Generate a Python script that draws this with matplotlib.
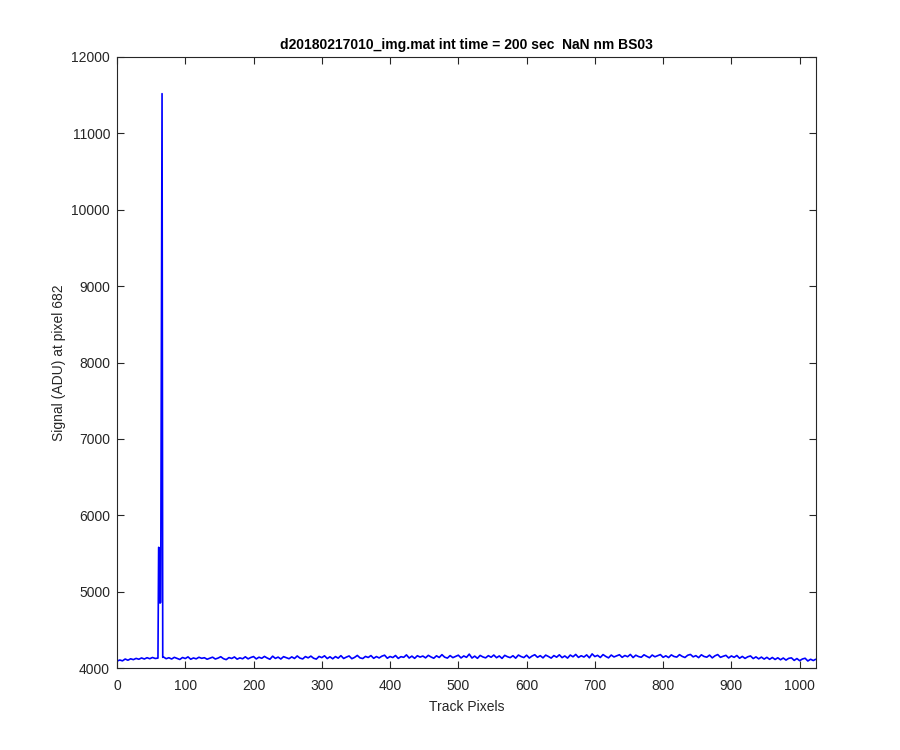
import matplotlib
matplotlib.use("Agg")
import matplotlib.pyplot as plt

head_pixels = list(range(0, 57, 4))
head_signal = [4090, 4105, 4094, 4118, 4102, 4121, 4110, 4126, 4115, 4132, 4118, 4135, 4122, 4138, 4125]

# Spike region
spike_pixels = [60, 61, 62, 63, 64, 65, 66, 67]
spike_signal = [4130, 5580, 5570, 4850, 4860, 8200, 11520, 4140]

tail_pixels = list(range(68, 1021, 4)) + [1023]
tail_signal = [
    4145, 4122, 4135, 4118, 4140, 4126, 4112, 4138, 4124, 4146, 4115, 4132, 4120, 4141, 4127,
    4135, 4115, 4128, 4142, 4118, 4130, 4148, 4122, 4110, 4137, 4125, 4145, 4116, 4133, 4121, 4147,
    4120, 4138, 4150, 4119, 4142, 4127, 4152, 4131, 4115, 4155, 4126, 4143, 4118, 4149, 4135, 4122,
    4146, 4125, 4158, 4130, 4119, 4150, 4133, 4156, 4128, 4117, 4152, 4136, 4160, 4124, 4147, 4121,
    4150, 4129, 4162, 4125, 4143, 4158, 4122, 4139, 4165, 4133, 4124, 4152, 4138, 4163, 4127, 4150,
    4132, 4155, 4168, 4128, 4151, 4137, 4164, 4126, 4149, 4140, 4172, 4131, 4156, 4127, 4161, 4143,
    4157, 4133, 4166, 4145, 4128, 4160, 4138, 4175, 4142, 4130, 4163, 4136, 4152, 4168, 4132, 4158,
    4140, 4182, 4131, 4156, 4127, 4165, 4145, 4133, 4162, 4141, 4170, 4135, 4158, 4126, 4166, 4148,
    4136, 4161, 4129, 4170, 4150, 4137, 4168, 4131, 4157, 4174, 4140, 4162, 4133, 4169, 4151, 4130,
    4163, 4142, 4173, 4136, 4158, 4130, 4170, 4147, 4178, 4139, 4161, 4144, 4172, 4134, 4185, 4150,
    4166, 4138, 4176, 4152, 4133, 4170, 4145, 4160, 4174, 4140, 4164, 4148, 4178, 4137, 4168, 4150,
    4141, 4173, 4153, 4135, 4170, 4147, 4162, 4176, 4140, 4160, 4137, 4172, 4151, 4143, 4175, 4152,
    4138, 4167, 4178, 4146, 4162, 4136, 4173, 4151, 4142, 4169, 4133, 4160, 4176, 4140, 4154, 4166,
    4132, 4158, 4140, 4164, 4128, 4152, 4126, 4147, 4158, 4124, 4146, 4120, 4143, 4117, 4140, 4114,
    4138, 4112, 4134, 4108, 4131, 4104, 4127, 4133, 4100, 4124, 4096, 4118, 4128, 4092, 4115, 4098,
    4112,
]

pixels = head_pixels + spike_pixels + tail_pixels
signal = head_signal + spike_signal + tail_signal

x_ticks = [0, 100, 200, 300, 400, 500, 600, 700, 800, 900, 1000]
y_ticks = [4000, 5000, 6000, 7000, 8000, 9000, 10000, 11000, 12000]

title = "d20180217010_img.mat int time = 200 sec  NaN nm BS03"
xlabel = "Track Pixels"
ylabel = "Signal (ADU) at pixel 682"

plt.rcParams["font.family"] = ["Liberation Sans", "DejaVu Sans"]

fig = plt.figure(figsize=(9, 7.5), dpi=100)
ax = fig.add_axes([0.13, 0.1093, 0.7767, 0.8147])
ax.plot(pixels, signal, color=(0, 0, 1), linewidth=1.2)
ax.set_xlim(0, 1024)
ax.set_ylim(4000, 12000)
ax.set_xticks(x_ticks)
ax.set_yticks(y_ticks)
ax.set_xticklabels([str(v) for v in x_ticks])
ax.set_yticklabels([str(v) for v in y_ticks])
axcol = (0.15, 0.15, 0.15)
for s in ax.spines.values():
    s.set_color(axcol)
    s.set_linewidth(0.8)
ax.tick_params(direction="in", length=5, width=0.8, color=axcol, labelcolor=axcol,
               labelsize=10, top=True, right=True, pad=5)
ax.tick_params(axis="x", pad=8)
ax.set_title(title, fontsize=10, fontweight="bold", color="black", pad=6)
ax.set_xlabel(xlabel, fontsize=10, color=axcol, labelpad=5)
ax.set_ylabel(ylabel, fontsize=10, color=axcol, labelpad=4)
fig.savefig("out.png", dpi=100, facecolor="white")
